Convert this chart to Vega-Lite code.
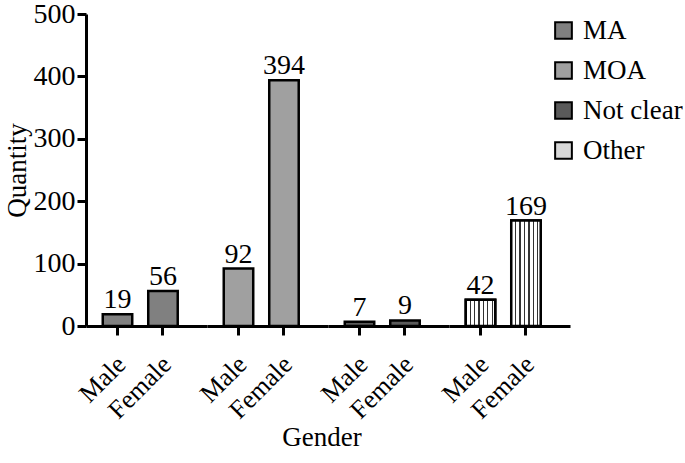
{
  "$schema": "https://vega.github.io/schema/vega-lite/v6.json",
  "padding": {"left": 3, "top": 0, "right": 0, "bottom": 0},
  "bounds": "flush",
  "data": {"values": [
    {"type": "MA", "gender": "Male", "quantity": 19},
    {"type": "MA", "gender": "Female", "quantity": 56},
    {"type": "MOA", "gender": "Male", "quantity": 92},
    {"type": "MOA", "gender": "Female", "quantity": 394},
    {"type": "Not clear", "gender": "Male", "quantity": 7},
    {"type": "Not clear", "gender": "Female", "quantity": 9},
    {"type": "Other", "gender": "Male", "quantity": 42},
    {"type": "Other", "gender": "Female", "quantity": 169}
  ]},
  "facet": {
    "column": {
      "field": "type",
      "sort": ["MA", "MOA", "Not clear", "Other"],
      "title": "Gender",
      "header": {
        "labels": false,
        "titleOrient": "bottom",
        "titleFont": "Liberation Serif",
        "titleFontSize": 27,
        "titleFontWeight": "normal",
        "titleColor": "black",
        "titlePadding": 89
      }
    }
  },
  "spacing": 0,
  "spec": {
    "width": 121,
    "height": 312,
    "layer": [
      {
        "mark": {"type": "bar", "stroke": "black", "strokeWidth": 2.5},
        "encoding": {
          "x": {
            "field": "gender",
            "type": "nominal",
            "sort": ["Male", "Female"],
            "scale": {"paddingInner": 0.352, "paddingOuter": 0.506, "align": 0.364},
            "axis": {"title": null, "labelAngle": -45, "labelBaseline": "middle", "labelAlign": "right", "labelPadding": 25, "labelOffset": 4, "labelFontSize": 26}
          },
          "y": {
            "field": "quantity",
            "type": "quantitative",
            "scale": {"domain": [0, 500]},
            "axis": {"title": "Quantity", "values": [0, 100, 200, 300, 400, 500], "titlePadding": 2, "labelPadding": 2}
          },
          "color": {
            "field": "type",
            "type": "nominal",
            "scale": {"domain": ["MA", "MOA", "Not clear", "Other"], "range": ["#808080", "#a0a0a0", "#5a5a5a", "#d8d8d8"]},
            "legend": {
              "title": null,
              "orient": "none",
              "legendX": 464,
              "legendY": 3,
              "symbolType": "square",
              "symbolSize": 280,
              "symbolStrokeColor": "black",
              "symbolStrokeWidth": 2,
              "symbolOpacity": 1,
              "labelFont": "Liberation Serif",
              "labelFontSize": 27,
              "labelColor": "black",
              "labelOffset": 6,
              "rowPadding": 12
            }
          }
        }
      },
      {
        "transform": [{"filter": "datum.type === 'Other'"}],
        "mark": {
          "type": "bar",
          "stroke": "black",
          "strokeWidth": 2.5,
          "color": {"gradient": "linear", "x1": 0, "y1": 0, "x2": 1, "y2": 0, "stops": [
            {"offset": 0, "color": "white"},
            {"offset": 0.13, "color": "white"}, {"offset": 0.13, "color": "#333"}, {"offset": 0.17, "color": "#333"}, {"offset": 0.17, "color": "white"},
            {"offset": 0.28, "color": "white"}, {"offset": 0.28, "color": "#333"}, {"offset": 0.32, "color": "#333"}, {"offset": 0.32, "color": "white"},
            {"offset": 0.43, "color": "white"}, {"offset": 0.43, "color": "#333"}, {"offset": 0.47, "color": "#333"}, {"offset": 0.47, "color": "white"},
            {"offset": 0.58, "color": "white"}, {"offset": 0.58, "color": "#333"}, {"offset": 0.62, "color": "#333"}, {"offset": 0.62, "color": "white"},
            {"offset": 0.73, "color": "white"}, {"offset": 0.73, "color": "#333"}, {"offset": 0.77, "color": "#333"}, {"offset": 0.77, "color": "white"},
            {"offset": 0.88, "color": "white"}, {"offset": 0.88, "color": "#333"}, {"offset": 0.92, "color": "#333"}, {"offset": 0.92, "color": "white"},
            {"offset": 1, "color": "white"}]}
        },
        "encoding": {
          "x": {"field": "gender", "type": "nominal", "sort": ["Male", "Female"]},
          "y": {"field": "quantity", "type": "quantitative"}
        }
      },
      {
        "mark": {"type": "text", "baseline": "alphabetic", "dy": -6, "font": "Liberation Serif", "fontSize": 28, "color": "black"},
        "encoding": {
          "x": {"field": "gender", "type": "nominal", "sort": ["Male", "Female"]},
          "y": {"field": "quantity", "type": "quantitative"},
          "text": {"field": "quantity", "type": "quantitative"}
        }
      }
    ]
  },
  "resolve": {"scale": {"x": "independent"}},
  "config": {
    "view": {"stroke": null},
    "font": "Liberation Serif",
    "axis": {
      "grid": false,
      "domainColor": "black",
      "domainWidth": 3,
      "tickColor": "black",
      "tickWidth": 3,
      "tickSize": 9,
      "labelFont": "Liberation Serif",
      "labelFontSize": 28,
      "labelColor": "black",
      "titleFont": "Liberation Serif",
      "titleFontSize": 27,
      "titleFontWeight": "normal",
      "titleColor": "black"
    }
  }
}
